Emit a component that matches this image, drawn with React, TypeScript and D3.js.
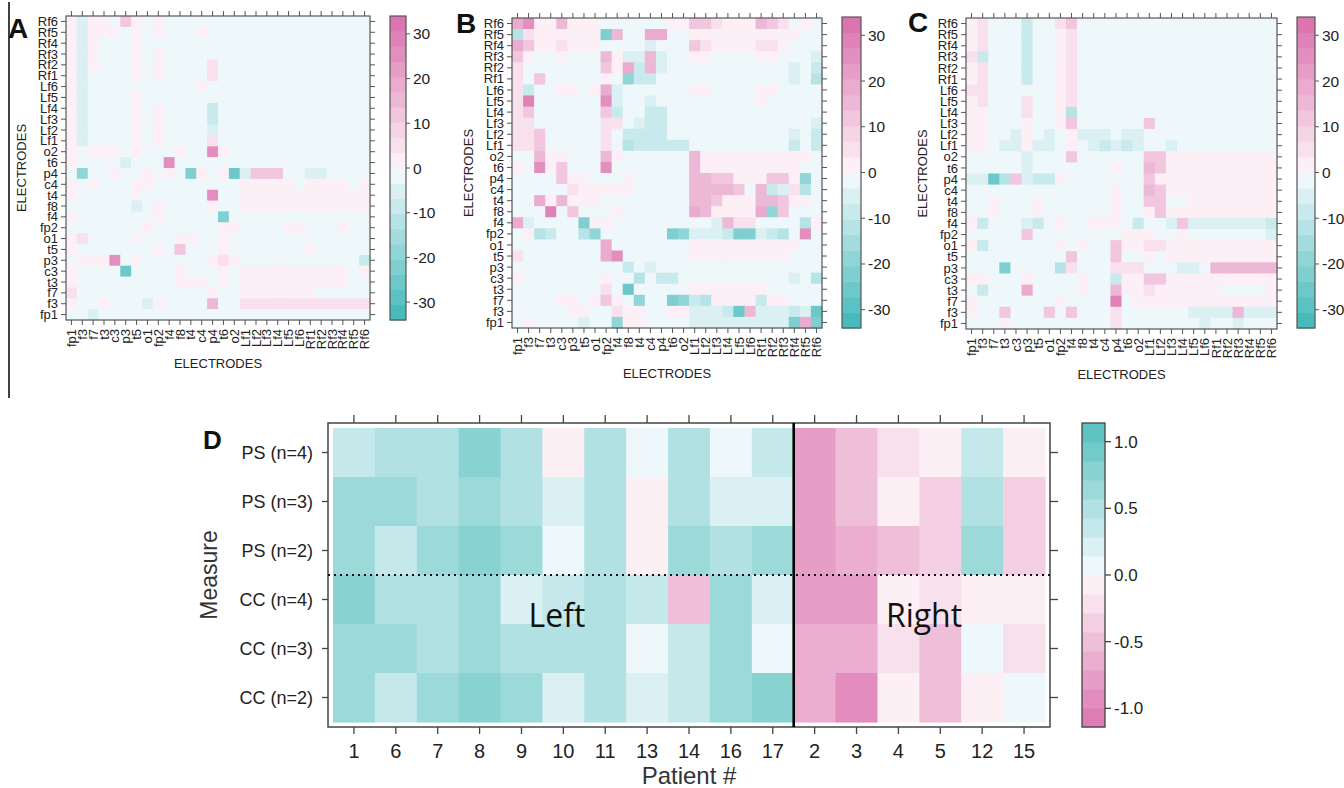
import React from 'react';
import * as d3 from 'd3';

// ---------- Data ----------
const ELECTRODES = ['fp1', 'f3', 'f7', 't3', 'c3', 'p3', 't5', 'o1', 'fp2', 'f4', 'f8', 't4', 'c4', 'p4', 't6', 'o2',
  'Lf1', 'Lf2', 'Lf3', 'Lf4', 'Lf5', 'Lf6', 'Rf1', 'Rf2', 'Rf3', 'Rf4', 'Rf5', 'Rf6'];

// value read for each cell code (colour-bar units); '.' = background (just below 0)
const CODE_VALUES: Record<string, number> = {
  '.': -1.5,
  A: 1.7, B: 6.5, C: 11, D: 14.5, E: 18, F: 24, G: 28,
  b: -5.5, c: -9.5, d: -13.5, e: -18, f: -22, g: -26,
};

// rows from top (Rf6) to bottom (fp1); columns fp1 … Rf6 in groups of four
const MATRIX_A = [
  'AbAA .CA. A... .... .... .... ....',
  'AbAA A.A. A... A... .... .... ....',
  'AbA. ..A. .... .... .... .... ....',
  'AbA. ..A. A... .... .... .... ....',
  'AbA. ..A. A... .B.. .... .... ....',
  'Ab.. ..A. A... .B.. .... .... ....',
  'Ab.. .... .... A... .... .... ....',
  'Ab.. ..A. .... .... .... .... ....',
  'Ab.. ..A. A... .c.. .... .... ....',
  'Ab.. ..A. A... .c.. .... .... ....',
  'Ab.. ..A. A... .b.. .... .... ....',
  'Ab.. ..A. A... .B.. .... .... ....',
  'A.AA A.A. ..A. .FA. .... .... ....',
  'A... .b.. .F.. .... .... .... ....',
  '.e.. A..A .A.f A.Ag bCCC ..bb ....',
  'A.A. ..AA .... .... AAAA A.AA AA.A',
  'A... ..A. .... .F.. AAAA AAAA AAAA',
  '.... ..b. A... .A.. AAAA AAAA AAAA',
  'A... .... A... ..f. .... .... ....',
  '.... ...A .... ..AA .... AA.. .A..',
  'AB.. ..A. ..AA ..A. .... .... ....',
  'A... .... A.C. ..A. .... ..A. ....',
  '.AAA F.A. .... .ABA .... .... ...c',
  'A... .g.. ..A. ..A. AAAA AAAA AA.A',
  'A... .... ..AA A.A. AAAA AAAA AA..',
  'B... .... .... .A.. AAAA AAA. ....',
  'A..A ...b A... .D.. BBBB BBBB BBBB',
  '..b. .... .... .... .... .... ....',
];

const MATRIX_B = [
  'EFAA DAAA .... ..AA CCBA AADC B.A.',
  'dBAA AAAA fD.. EE.. AAAA AAAA AA..',
  'ECAA BAAA .... b... CBAA AABB A...',
  'CA.. A... DAbb Db.. AA.. ..AA ...b',
  'B... .... CAEc Db.. .... .... .b.c',
  'B.C. .... A.ec c... .... .... .b.d',
  'Bc.. AA.A Eb.. .... AA.. ..AA ....',
  'BG.. .... Fb.. b... .... ..A. ....',
  'BC.. .... Cc.. cc.. .... .... ....',
  'BB.. .... BB.b cc.. .... .... ...b',
  'BBC. .... B.cc cc.. .... .... .b.c',
  'BBC. .... B.dc cccc .... .... .c.c',
  '..DA A... DA.. .... DAAA AAAA AAA.',
  'A.FA C... F... .... DAAA AAAA AA..',
  '.... CAA. ..A. .... DDCC AAAC CAe.',
  '.... .BAA AAA. .... DDDD C.Dc bBd.',
  '..EA DAAA .... .... DDCA AADD CAA.',
  '...G .C.. .A.. .... EDAA AAEe C...',
  'Eb.. ..fA A... .... ..bD BB.. ..dA',
  '.Adc ..de .... ..fe bbbc ffbc d.F.',
  '.... .... E... .... AAAA AAAA AA..',
  'B... .... EF.. .... AAAA AAAA A...',
  '.... .... ..c. b... .... .... ....',
  'A... .... A..d .cc. .... .... .b.d',
  '.... .... B.g. .... AAAA AAA. ....',
  '.... AA.A CA.e ..fe cdAA AAcA A...',
  '.... .AA. .BAA ..AA bbbc gDbb bcbg',
  '.A.. ..b. .eAA .... bbbb bbbb bfEf',
];

const MATRIX_C = [
  'AB.. .c.. BC.. .... .... .... ....',
  'AB.. .c.. AB.. .... .... .... ....',
  'AB.. .c.. AB.. .... .... .... ....',
  'Bc.. .c.. AB.. .... .... .... ....',
  'AB.. .c.. AB.. .... .... .... ....',
  'AB.. .c.. AB.. .... .... .... ....',
  'BB.. .... AB.. .... .... .... ....',
  'AB.. .B.. AB.. .... .... .... ....',
  'AA.. .B.. Ad.. .... .... .... ....',
  'AA.. .A.. AC.. .... C... .... ....',
  'AA.. bA.b .Abb b.bb .... .... ....',
  'AA.b bAbb .A.b cbcb ..b. .... ....',
  '.... .b.. .C.. .... CCAA AAAA AAAA',
  '.... .b.. .... .A.. DCAA AAAA AAAA',
  'bbgd Cbcc A... .... CAAA AAAA AAAA',
  '.... .... .... .A.. DCAA AAAA AAAA',
  '..A. ..A. .... .A.. CC.. AAAA AAAA',
  '..A. ..A. .... .A.. ACAA AAAA AAAA',
  'Ac.. .bc. A..A AA.c ..bC bbbb bbbc',
  '.... .C.. .... ..AA A..A .... ...b',
  'Ac.. .... A.A. .CAA BBAA AAAA AAAA',
  '.... .... .C.. .C.. A.AA AAAA AAAA',
  '...f .... dB.. .BBB ...b b.DD DDDD',
  'AA.. .A.. ..A. .cAA CCAA AAAA AAAA',
  '.c.. .E.. ..A. .DAA BAAA AAA. ...A',
  'A... .... A... .G.A AAAA AAAA AAAA',
  'A..C ...C .C.. .B.. .... bbbb Dbbb',
  '...A .... .... .B.. .... .b.. b...',
];

const MATRIX_TICKS = [-30, -20, -10, 0, 10, 20, 30];
const MATRIX_LIMIT = 34;
const MATRIX_BINS = 20;

const PATIENTS = ['1', '6', '7', '8', '9', '10', '11', '13', '14', '16', '17', '2', '3', '4', '5', '12', '15'];
const MEASURES = ['PS (n=4)', 'PS (n=3)', 'PS (n=2)', 'CC (n=4)', 'CC (n=3)', 'CC (n=2)'];
const PS_N4 = [0.4, 0.55, 0.45, 0.75, 0.45, -0.05, 0.55, 0.05, 0.55, 0.05, 0.35, -0.75, -0.55, -0.2, -0.05, 0.3, -0.05];
const PS_N3 = [0.6, 0.6, 0.45, 0.7, 0.55, 0.2, 0.55, -0.05, 0.55, 0.2, 0.2, -0.75, -0.55, -0.1, -0.35, 0.55, -0.35];
const PS_N2 = [0.7, 0.3, 0.6, 0.85, 0.65, 0.05, 0.55, -0.05, 0.65, 0.45, 0.7, -0.75, -0.7, -0.5, -0.35, 0.65, -0.35];
const CC_N4 = [0.85, 0.5, 0.5, 0.7, 0.2, 0.3, 0.55, 0.3, -0.45, 0.65, 0.2, -0.75, -0.75, -0.05, -0.2, -0.05, -0.05];
const CC_N3 = [0.7, 0.6, 0.5, 0.6, 0.45, 0.5, 0.55, 0.05, 0.3, 0.65, 0.05, -0.65, -0.6, -0.25, -0.5, 0.05, -0.2];
const CC_N2 = [0.7, 0.3, 0.7, 0.85, 0.6, 0.2, 0.55, 0.2, 0.3, 0.65, 0.75, -0.7, -0.9, -0.05, -0.5, -0.05, 0.05];
const D_ROWS = [PS_N4, PS_N3, PS_N2, CC_N4, CC_N3, CC_N2];
const D_TICKS = [-1, -0.5, 0, 0.5, 1];
const D_LIMIT = 1.14;
const D_BINS = 16;

// ---------- Colours ----------
const FONT = '"Liberation Sans", Arial, Helvetica, sans-serif';
const mPink = d3.interpolateRgb('#FCEFF5', '#DB74AF');
const mTeal = d3.interpolateRgb('#EEF7FA', '#47BBBB');
const matrixStep = (2 * MATRIX_LIMIT) / MATRIX_BINS;
function matrixColor(v: number) {
  const half = MATRIX_BINS / 2;
  const k = Math.min(half, Math.floor(Math.abs(v) / matrixStep) + 1);
  const t = (k - 1) / (half - 1);
  return v > 0 ? mPink(t) : mTeal(t);
}
const dTeal = d3.interpolateRgb('#EEF8FA', '#5FC3C1');
const dPink = d3.interpolateRgb('#FDF0F5', '#DD7DB4');
const dStep = (2 * D_LIMIT) / D_BINS;
function dColor(v: number) {
  const half = D_BINS / 2;
  const k = Math.min(half, Math.floor(Math.abs(v) / dStep) + 1);
  const t = (k - 1) / (half - 1);
  return v > 0 ? dTeal(t) : dPink(t);
}

type Box = { x0: number; x1: number; y0: number; y1: number };

function MatrixPanel(props: {
  rows: string[]; letter: string; box: Box; bar: Box; letterX: number; letterY: number; ylabX: number; xlabY: number;
}) {
  const { rows, letter, box, bar, letterX, letterY, ylabX, xlabY } = props;
  const x = d3.scaleBand<string>().domain(ELECTRODES).range([box.x0, box.x1]);
  const y = d3.scaleBand<string>().domain([...ELECTRODES].reverse()).range([box.y0, box.y1]);
  const bw = x.bandwidth();
  const bh = y.bandwidth();
  const cells: { xe: string; ye: string; v: number }[] = [];
  rows.forEach((row, i) => {
    const chars = row.replace(/ /g, '').split('');
    const ye = ELECTRODES[ELECTRODES.length - 1 - i];
    chars.forEach((ch, j) => cells.push({ xe: ELECTRODES[j], ye, v: CODE_VALUES[ch] ?? -1.5 }));
  });
  const yb = d3.scaleLinear().domain([-MATRIX_LIMIT, MATRIX_LIMIT]).range([bar.y1, bar.y0]);
  const bins = d3.range(MATRIX_BINS).map((i) => -MATRIX_LIMIT + i * matrixStep);
  const tk = 5;
  const axisColor = '#555';
  const lf = 13;
  return (
    <g fontFamily={FONT}>
      {cells.map((c, i) => (
        <rect key={i} x={x(c.xe)!} y={y(c.ye)!} width={bw + 0.6} height={bh + 0.6} fill={matrixColor(c.v)} />
      ))}
      <rect x={box.x0} y={box.y0} width={box.x1 - box.x0} height={box.y1 - box.y0} fill="none" stroke={axisColor} strokeWidth={1.2} />
      {ELECTRODES.map((e) => {
        const cx = x(e)! + bw / 2;
        const cy = y(e)! + bh / 2;
        return (
          <g key={e} stroke={axisColor} strokeWidth={1}>
            <line x1={cx} x2={cx} y1={box.y0} y2={box.y0 - tk} />
            <line x1={cx} x2={cx} y1={box.y1} y2={box.y1 + tk} />
            <line x1={box.x0} x2={box.x0 - tk} y1={cy} y2={cy} />
            <line x1={box.x1} x2={box.x1 + tk} y1={cy} y2={cy} />
          </g>
        );
      })}
      {ELECTRODES.map((e) => (
        <text key={'yl' + e} x={box.x0 - 8} y={y(e)! + bh / 2 + 4.6} fontSize={lf} textAnchor="end" fill="#222">{e}</text>
      ))}
      {ELECTRODES.map((e) => {
        const cx = x(e)! + bw / 2 + 4.6;
        const ty = box.y1 + 9;
        return (
          <text key={'xl' + e} x={cx} y={ty} fontSize={lf} textAnchor="end" fill="#222" transform={`rotate(-90 ${cx} ${ty})`}>{e}</text>
        );
      })}
      <text x={(box.x0 + box.x1) / 2} y={xlabY} fontSize={13} textAnchor="middle" fill="#222">ELECTRODES</text>
      <text x={ylabX} y={(box.y0 + box.y1) / 2} fontSize={13} textAnchor="middle" fill="#222"
        transform={`rotate(-90 ${ylabX} ${(box.y0 + box.y1) / 2})`}>ELECTRODES</text>
      {bins.map((lo, i) => (
        <rect key={'cb' + i} x={bar.x0} y={yb(lo + matrixStep)} width={bar.x1 - bar.x0} height={yb(lo) - yb(lo + matrixStep) + 0.5}
          fill={matrixColor(lo + matrixStep / 2)} />
      ))}
      <rect x={bar.x0} y={bar.y0} width={bar.x1 - bar.x0} height={bar.y1 - bar.y0} fill="none" stroke={axisColor} strokeWidth={1.2} />
      {MATRIX_TICKS.map((t) => (
        <g key={'ct' + t}>
          <line x1={bar.x1} x2={bar.x1 + 4} y1={yb(t)} y2={yb(t)} stroke={axisColor} />
          <text x={bar.x1 + 7} y={yb(t) + 5.5} fontSize={15.5} fill="#222">{t}</text>
        </g>
      ))}
      <text x={letterX} y={letterY} fontSize={28} fontWeight="bold" fill="#111">{letter}</text>
    </g>
  );
}

function PanelD() {
  const box = { x0: 328, x1: 1050, y0: 423, y1: 727 };
  const x = d3.scaleBand<string>().domain(PATIENTS).range([333, 1045]);
  const y = d3.scaleBand<string>().domain(MEASURES).range([428, 722]);
  const bw = x.bandwidth();
  const bh = y.bandwidth();
  const bar = { x0: 1082, x1: 1105, y0: 423, y1: 727 };
  const yb = d3.scaleLinear().domain([-D_LIMIT, D_LIMIT]).range([bar.y1, bar.y0]);
  const bins = d3.range(D_BINS).map((i) => -D_LIMIT + i * dStep);
  const axisColor = '#444';
  const splitX = x(PATIENTS[11])!;
  const splitY = y(MEASURES[3])!;
  return (
    <g fontFamily={FONT}>
      {D_ROWS.map((row, r) =>
        row.map((v, c) => (
          <rect key={r + '-' + c} x={x(PATIENTS[c])!} y={y(MEASURES[r])!} width={bw + 0.6} height={bh + 0.6} fill={dColor(v)} />
        ))
      )}
      <rect x={box.x0} y={box.y0} width={box.x1 - box.x0} height={box.y1 - box.y0} fill="none" stroke={axisColor} strokeWidth={1.5} />
      {PATIENTS.map((p) => {
        const cx = x(p)! + bw / 2;
        return (
          <g key={p}>
            <line x1={cx} x2={cx} y1={box.y0} y2={box.y0 - 8} stroke={axisColor} strokeWidth={1.3} />
            <line x1={cx} x2={cx} y1={box.y1} y2={box.y1 + 7} stroke={axisColor} strokeWidth={1.3} />
            <text x={cx} y={758} fontSize={20} textAnchor="middle" fill="#222">{p}</text>
          </g>
        );
      })}
      {MEASURES.map((m) => {
        const cy = y(m)! + bh / 2;
        return (
          <g key={m}>
            <line x1={box.x0} x2={box.x0 - 6} y1={cy} y2={cy} stroke={axisColor} strokeWidth={1.3} />
            <line x1={box.x1} x2={box.x1 + 8} y1={cy} y2={cy} stroke={axisColor} strokeWidth={1.3} />
            <text x={313} y={cy + 6.5} fontSize={18} textAnchor="end" fill="#222">{m}</text>
          </g>
        );
      })}
      <line x1={box.x0} x2={box.x1} y1={splitY} y2={splitY} stroke="#111" strokeWidth={2} strokeDasharray="2 4" />
      <line x1={splitX} x2={splitX} y1={box.y0} y2={box.y1} stroke="#000" strokeWidth={2.6} />
      <text x={557} y={627} fontSize={32} fontFamily='"Open Sans", Lato, sans-serif' textAnchor="middle" fill="#111">Left</text>
      <text x={924} y={627} fontSize={32} fontFamily='"Open Sans", Lato, sans-serif' textAnchor="middle" fill="#111">Right</text>
      <text x={(box.x0 + box.x1) / 2} y={784} fontSize={24} textAnchor="middle" fill="#333">Patient #</text>
      <text x={217} y={575} fontSize={23} textAnchor="middle" fill="#333" transform="rotate(-90 217 575)">Measure</text>
      {bins.map((lo, i) => (
        <rect key={'db' + i} x={bar.x0} y={yb(lo + dStep)} width={bar.x1 - bar.x0} height={yb(lo) - yb(lo + dStep) + 0.5}
          fill={dColor(lo + dStep / 2)} />
      ))}
      <rect x={bar.x0} y={bar.y0} width={bar.x1 - bar.x0} height={bar.y1 - bar.y0} fill="none" stroke={axisColor} strokeWidth={1.3} />
      {D_TICKS.map((t) => (
        <g key={'dt' + t}>
          <line x1={bar.x1} x2={bar.x1 + 6} y1={yb(t)} y2={yb(t)} stroke={axisColor} strokeWidth={1.3} />
          <text x={bar.x1 + 9} y={yb(t) + 6} fontSize={17} fill="#222">{t.toFixed(1)}</text>
        </g>
      ))}
      <text x={203} y={449} fontSize={26} fontWeight="bold" fill="#111">D</text>
    </g>
  );
}

export default function App() {
  return (
    <svg width={1344} height={788} viewBox="0 0 1344 788"
      style={{ position: 'absolute', left: 0, top: 0, background: '#fff' }}>
      <rect x={0} y={0} width={1344} height={788} fill="#fff" />
      <line x1={9} x2={9} y1={2} y2={398} stroke="#000" strokeWidth={1.5} />
      <MatrixPanel rows={MATRIX_A} letter="A" box={{ x0: 66, x1: 370, y0: 16, y1: 320 }} bar={{ x0: 390, x1: 406, y0: 16, y1: 320 }}
        letterX={8} letterY={38} ylabX={26} xlabY={368} />
      <MatrixPanel rows={MATRIX_B} letter="B" box={{ x0: 512, x1: 822, y0: 18, y1: 328 }} bar={{ x0: 842, x1: 861, y0: 17, y1: 328 }}
        letterX={456} letterY={33} ylabX={473} xlabY={378} />
      <MatrixPanel rows={MATRIX_C} letter="C" box={{ x0: 966, x1: 1277, y0: 18, y1: 329 }} bar={{ x0: 1297, x1: 1315, y0: 17, y1: 328 }}
        letterX={908} letterY={32} ylabX={927} xlabY={379} />
      <PanelD />
    </svg>
  );
}
